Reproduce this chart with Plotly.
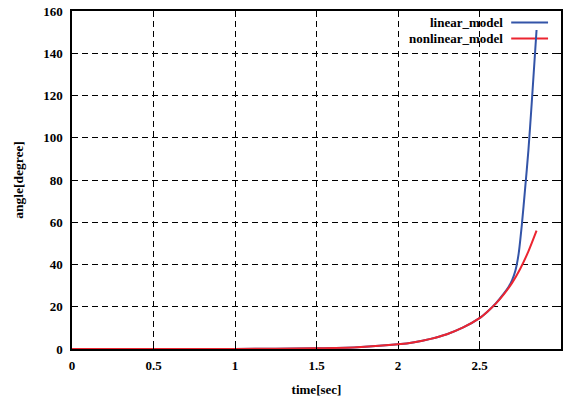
import plotly.graph_objects as go

# time [sec]
t_nonlinear = [0.0, 0.25, 0.5, 0.75, 1.0, 1.25, 1.5, 1.75, 2.0, 2.1, 2.2, 2.3, 2.4, 2.5,
               2.55, 2.6, 2.65, 2.7, 2.75, 2.8, 2.85]
angle_nonlinear = [0.0, 0.003, 0.01, 0.02, 0.05, 0.13, 0.33, 0.85, 2.2, 3.2, 4.8, 7.0, 10.2, 14.6,
                   17.8, 21.5, 26.0, 31.3, 38.0, 46.2, 56.0]

t_linear = [0.0, 0.25, 0.5, 0.75, 1.0, 1.25, 1.5, 1.75, 2.0, 2.1, 2.2, 2.3, 2.4, 2.5,
            2.55, 2.6, 2.65, 2.68, 2.7, 2.72, 2.74, 2.76, 2.78, 2.8, 2.82, 2.85]
angle_linear = [0.0, 0.003, 0.01, 0.02, 0.05, 0.13, 0.33, 0.85, 2.2, 3.2, 4.8, 7.0, 10.2, 14.6,
                17.8, 21.6, 26.3, 29.6, 32.6, 37.0, 45.0, 59.0, 76.0, 94.0, 116.0, 151.0]

x_ticks = [0, 0.5, 1, 1.5, 2, 2.5]
x_tick_labels = ["0", "0.5", "1", "1.5", "2", "2.5"]
y_ticks = [0, 20, 40, 60, 80, 100, 120, 140, 160]
y_tick_labels = ["0", "20", "40", "60", "80", "100", "120", "140", "160"]

legend_names = ["linear_model", "nonlinear_model"]
colors = ["#3354a8", "#ec2530"]

FONT = "Liberation Serif"
tfont = dict(family=FONT, size=13, color="black", weight="bold")
tickf = dict(family=FONT, size=13, color="black", weight="bold")

fig = go.Figure()
fig.add_trace(go.Scatter(x=t_linear, y=angle_linear, mode="lines", name=legend_names[0],
                         line=dict(color=colors[0], width=2, shape="spline", smoothing=0.7),
                         cliponaxis=False))
fig.add_trace(go.Scatter(x=t_nonlinear, y=angle_nonlinear, mode="lines", name=legend_names[1],
                         line=dict(color=colors[1], width=2, shape="spline", smoothing=0.7),
                         cliponaxis=False))

grid = dict(showgrid=True, gridcolor="black", gridwidth=1, griddash="6px,4px")

fig.update_xaxes(range=[0, 3], tickvals=x_ticks, ticktext=["<b>%s</b>" % s for s in x_tick_labels],
                 showline=True, linecolor="black", linewidth=1.5, mirror="ticks",
                 ticks="inside", ticklen=4, tickcolor="black", zeroline=False,
                 title=dict(text="time[sec]", font=tfont, standoff=13),
                 tickfont=tickf, ticklabelstandoff=4,
                 **grid)
fig.update_yaxes(range=[0, 160], tickvals=y_ticks, ticktext=["<b>%s</b>" % s for s in y_tick_labels],
                 showline=True, linecolor="black", linewidth=1.5, mirror="ticks",
                 ticks="inside", ticklen=4, tickcolor="black", zeroline=False,
                 title=dict(text="angle[degree]", font=dict(tfont, size=13.5), standoff=16),
                 tickfont=tickf, ticklabelstandoff=5,
                 **grid)

# custom legend (text left of line sample, as in the reference)
W, H = 563, 400
L, R, T, B = 72, 0, 11, 51
pw, ph = W - L - R, H - T - B
def px(xp):
    return (xp - L) / pw
def py(yp):
    return 1 - (yp - T) / ph

for i, (name, col) in enumerate(zip(legend_names, colors)):
    yy = 22.5 + i * 16
    fig.add_annotation(x=px(507), y=py(yy), xref="paper", yref="paper", text="<b>%s</b>" % name,
                       showarrow=False, xanchor="right", yanchor="middle",
                       font=dict(family=FONT, size=13, color="black"))
    fig.add_shape(type="line", xref="paper", yref="paper", x0=px(513), x1=px(550),
                  y0=py(yy), y1=py(yy), line=dict(color=col, width=2), layer="below")

fig.update_layout(width=W, height=H, margin=dict(l=L, r=R, t=T, b=B),
                  plot_bgcolor="white", paper_bgcolor="white", showlegend=False,
                  font=dict(family=FONT, color="black"))

fig.write_html("out.html")
